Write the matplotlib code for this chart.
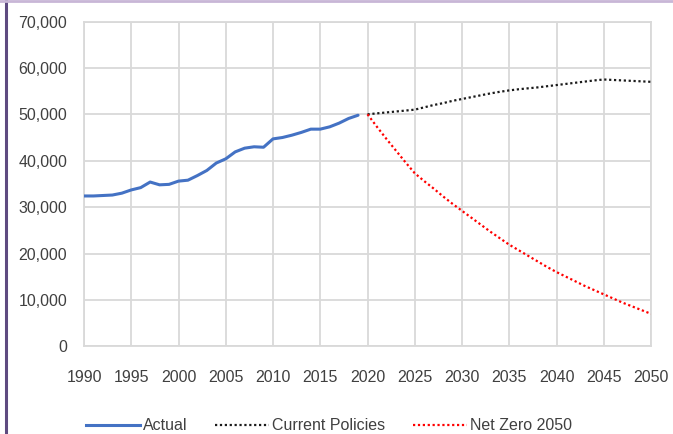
import numpy as np
import matplotlib.pyplot as plt
from matplotlib.lines import Line2D
from matplotlib.ticker import FuncFormatter

# ---- data ----
actual_years = list(range(1990, 2020))
actual_vals = [32400, 32400, 32500, 32600, 33000, 33700, 34200, 35400, 34800, 34900,
               35600, 35800, 36800, 37900, 39500, 40400, 41900, 42700, 43000, 42900,
               44700, 45000, 45500, 46100, 46800, 46800, 47300, 48100, 49100, 49800]

proj_years = list(range(2020, 2051))
current_policies = [50000, 50200, 50400, 50600, 50800, 51000, 51500, 52000, 52400, 52900,
                    53300, 53700, 54100, 54500, 54850, 55150, 55400, 55600, 55800, 56050,
                    56300, 56550, 56800, 57050, 57300, 57500, 57400, 57300, 57200, 57100,
                    57000]
net_zero = [50000, 47300, 44700, 42200, 39700, 37300, 35600, 34000, 32300, 30700,
            29200, 27700, 26200, 24700, 23300, 21900, 20700, 19500, 18300, 17100,
            16000, 15000, 14000, 13000, 12100, 11200, 10300, 9400, 8600, 7800,
            7000]

x_ticks = list(range(1990, 2051, 5))
y_ticks = list(range(0, 70001, 10000))

# ---- style ----
plt.rcParams['font.family'] = ['Liberation Sans', 'DejaVu Sans']
GRID = '#d9d9d9'
LABEL = '#404040'
BLUE = '#4472c4'

fig = plt.figure(figsize=(6.73, 4.34), dpi=100)
fig.patch.set_facecolor('white')
ax = fig.add_axes([84 / 673, 1 - 346.3 / 434, (651 - 84) / 673, (346.3 - 21.5) / 434])

ax.plot(actual_years, actual_vals, color=BLUE, lw=2.2, solid_capstyle='round',
        label='Actual', zorder=3)
ax.plot(proj_years, current_policies, color='#1a1a1a', lw=1.6,
        linestyle=(0, (1, 1.2)), label='Current Policies', zorder=3)
ax.plot(proj_years, net_zero, color='#ff0000', lw=1.6,
        linestyle=(0, (1, 1.2)), label='Net Zero 2050', zorder=3)

ax.set_xlim(1990, 2050)
ax.set_ylim(0, 70000)
ax.set_xticks(x_ticks)
ax.set_yticks(y_ticks)
ax.yaxis.set_major_formatter(FuncFormatter(lambda v, p: f'{v:,.0f}'))
ax.grid(True, color=GRID, lw=1.3)
ax.set_axisbelow(True)
for s in ax.spines.values():
    s.set_color(GRID)
    s.set_linewidth(1.3)
ax.tick_params(axis='both', length=0, labelsize=11.5, labelcolor=LABEL)
ax.tick_params(axis='x', pad=17)
ax.tick_params(axis='y', pad=12)

handles = [Line2D([0], [0], color=BLUE, lw=2.2),
           Line2D([0], [0], color='#1a1a1a', lw=1.6, linestyle=(0, (1, 1.2))),
           Line2D([0], [0], color='#ff0000', lw=1.6, linestyle=(0, (1, 1.2)))]
fig.legend(handles, ['Actual', 'Current Policies', 'Net Zero 2050'],
           loc='center', bbox_to_anchor=(329 / 673, 8 / 434), ncol=3,
           frameon=False, fontsize=11.5, labelcolor=LABEL,
           handlelength=3.4, handletextpad=0.2, columnspacing=1.7,
           borderpad=0, borderaxespad=0)

# purple frame pieces visible at the crop edges
fig.add_artist(Line2D([5.5 / 673, 5.5 / 673], [0, 1], transform=fig.transFigure,
                      color='#5e4b80', lw=2.2))
fig.add_artist(Line2D([0, 1], [1 - 1.2 / 434, 1 - 1.2 / 434], transform=fig.transFigure,
                      color='#c8b6d6', lw=2.0))

fig.savefig('out.png', dpi=100)
